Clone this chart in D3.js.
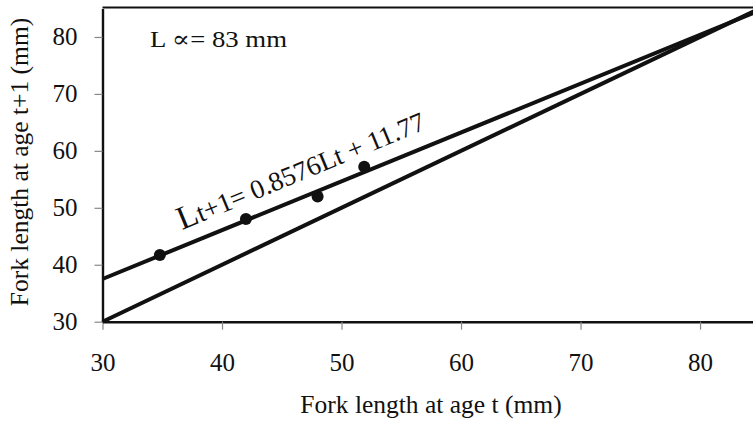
<!DOCTYPE html>
<html lang="en">
<head>
<meta charset="UTF-8">
<title>Fork length at age t vs t+1</title>
<script src="https://cdnjs.cloudflare.com/ajax/libs/d3/7.8.5/d3.min.js"></script>
<style>
    body {
        margin: 0;
        background: #fff;
        overflow: hidden;
    }
    .axis .tick line { stroke: #888; stroke-width: 1.2; }
    .axis .domain { stroke: #111; stroke-width: 2.4; }
</style>
</head>
<body>
<div id="chart"></div>
<script>
// data
const xTicks = [30, 40, 50, 60, 70, 80];
const yTicks = [30, 40, 50, 60, 70, 80];
const ageT = [34.8, 42.0, 48.0, 51.9];
const ageT1 = [41.7, 48.05, 52.0, 57.2];
const slope = 0.8576;
const intercept = 11.77;
const lineRange = [30, 85];
const lInf = "L \u221D= 83 mm";
const equation = ["L", "t+1= 0.8576Lt + 11.77"];

const serif = "'Liberation Serif', 'DejaVu Serif', 'Times New Roman', serif";
const width = 753, height = 423;
const margin = { top: 8.5, left: 102.5, bottom: 101.3 };

const svg = d3.select("#chart")
    .append("svg")
    .attr("width", width)
    .attr("height", height)
    .style("font-family", serif);

const x = d3.scaleLinear()
    .domain([30, 85])
    .range([margin.left, 759.8]);

const y = d3.scaleLinear()
    .domain([30, 85])
    .range([height - margin.bottom, margin.top]);

// top frame line
svg.append("line")
    .attr("x1", x(30)).attr("x2", width)
    .attr("y1", y(85) - 1).attr("y2", y(85) - 1)
    .attr("stroke", "#111")
    .attr("stroke-width", 2);

// axes
const xAxis = svg.append("g")
    .attr("class", "axis")
    .attr("transform", `translate(0,${y(30)})`)
    .call(d3.axisBottom(x).tickValues(xTicks).tickSize(8).tickSizeOuter(0).tickPadding(24));
xAxis.attr("font-family", serif).attr("font-size", 25);
xAxis.selectAll("text").attr("fill", "#111");

const yAxis = svg.append("g")
    .attr("class", "axis")
    .attr("transform", `translate(${x(30)},0)`)
    .call(d3.axisLeft(y).tickValues(yTicks).tickSize(8).tickSizeOuter(0).tickPadding(17));
yAxis.attr("font-family", serif).attr("font-size", 25);
yAxis.selectAll("text").attr("fill", "#111");

// lines
const line = d3.line()
    .x(d => x(d[0]))
    .y(d => y(d[1]));

svg.append("path")
    .datum(lineRange.map(v => [v, v]))
    .attr("d", line)
    .attr("fill", "none")
    .attr("stroke", "#111")
    .attr("stroke-width", 4);

svg.append("path")
    .datum(lineRange.map(v => [v, slope * v + intercept]))
    .attr("d", line)
    .attr("fill", "none")
    .attr("stroke", "#111")
    .attr("stroke-width", 4);

// observed points
svg.selectAll("circle.pt")
    .data(ageT.map((v, i) => [v, ageT1[i]]))
    .enter().append("circle")
    .attr("class", "pt")
    .attr("cx", d => x(d[0]))
    .attr("cy", d => y(d[1]))
    .attr("r", 6)
    .attr("fill", "#111");

// annotations
svg.append("text")
    .attr("x", 150)
    .attr("y", 46.5)
    .attr("font-size", 23)
    .attr("textLength", 137)
    .attr("lengthAdjust", "spacingAndGlyphs")
    .attr("fill", "#111")
    .text(lInf);

const eq = svg.append("text")
    .attr("transform", "translate(182,230) rotate(-22.5)")
    .attr("font-size", 27)
    .attr("fill", "#111");
eq.append("tspan").attr("font-size", 33).text(equation[0]);
eq.append("tspan").text(equation[1]);

// axis titles
svg.append("text")
    .attr("x", 431)
    .attr("y", 413)
    .attr("text-anchor", "middle")
    .attr("font-size", 25.5)
    .attr("fill", "#111")
    .text("Fork length at age t (mm)");

svg.append("text")
    .attr("transform", "translate(28,162) rotate(-90)")
    .attr("text-anchor", "middle")
    .attr("font-size", 25.5)
    .attr("fill", "#111")
    .text("Fork length at age t+1 (mm)");
</script>
</body>
</html>
